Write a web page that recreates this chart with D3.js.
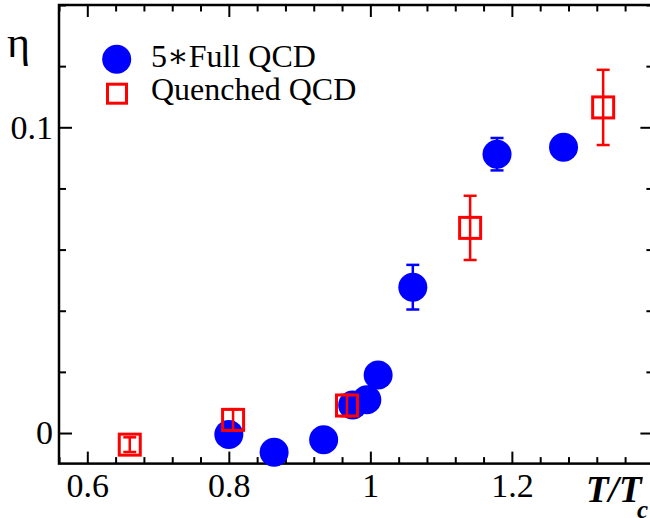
<!DOCTYPE html>
<html>
<head>
<meta charset="utf-8">
<script src="https://cdn.jsdelivr.net/npm/d3@7"></script>
<style>
  body { margin: 0; background: #fff; }
  svg { display: block; }
  .tick text { font-family: "Liberation Serif", serif; font-size: 34px; fill: #000; }
  .tick line { stroke: #000; stroke-width: 2; }
  .domain { display: none; }
  .legendText { font-family: "Liberation Serif", "DejaVu Serif", serif; font-size: 32px; fill: #000; }
</style>
</head>
<body>
<div id="chart"></div>
<script>
// data
var fullT = [0.800, 0.864, 0.934, 0.975, 0.995, 1.011, 1.060, 1.179, 1.273];
var fullEta = [-0.0005, -0.0063, -0.0022, 0.0092, 0.0109, 0.0190, 0.0477, 0.0912, 0.0935];
var fullErr = [0.002, 0.002, 0.002, 0.002, 0.002, 0.002, 0.0073, 0.0053, 0.002];

var quenchedT = [0.660, 0.806, 0.967, 1.141, 1.329];
var quenchedEta = [-0.0038, 0.0043, 0.0090, 0.0671, 0.1065];
var quenchedErr = [0.0024, 0.0035, 0.0035, 0.0105, 0.0123];

var xMajorTicks = [0.6, 0.8, 1, 1.2];
var yMajorTicks = [0, 0.1];
var seriesNames = ["5\u2217Full QCD", "Quenched QCD"];

var svgWidth = 650;
var svgHeight = 518;

// plot frame (right edge sits just outside the picture)
var margin = { top: 5, left: 59 };
var width = 594.4;
var height = 458.6;

var svg = d3.select("#chart")
  .append("svg")
  .attr("width", svgWidth)
  .attr("height", svgHeight);

var chartGroup = svg.append("g")
  .attr("transform", `translate(${margin.left}, ${margin.top})`);

// scales
var xScale = d3.scaleLinear().domain([0.56, 1.4]).range([0, width]);
var yScale = d3.scaleLinear().domain([-0.01, 0.14]).range([height, 0]);

var xMinor = d3.range(0.56, 1.401, 0.04).filter(v => !xMajorTicks.some(m => Math.abs(m - v) < 1e-6));
var yMinor = d3.range(0, 0.141, 0.02).filter(v => !yMajorTicks.some(m => Math.abs(m - v) < 1e-6));

var fmt = d => d3.format("")(+d.toFixed(2));

// axes: ticks point inward on all four sides
chartGroup.append("g")
  .attr("transform", `translate(0, ${height})`)
  .call(d3.axisBottom(xScale).tickValues(xMajorTicks).tickSize(-12).tickPadding(9).tickFormat(fmt));
chartGroup.append("g")
  .attr("transform", `translate(0, ${height})`)
  .call(d3.axisBottom(xScale).tickValues(xMinor).tickSize(-6.5).tickFormat(""));
chartGroup.append("g")
  .call(d3.axisTop(xScale).tickValues(xMajorTicks).tickSize(-12).tickFormat(""));
chartGroup.append("g")
  .call(d3.axisTop(xScale).tickValues(xMinor).tickSize(-6.5).tickFormat(""));

chartGroup.append("g")
  .call(d3.axisLeft(yScale).tickValues(yMajorTicks).tickSize(-13).tickPadding(6).tickFormat(fmt));
chartGroup.append("g")
  .call(d3.axisLeft(yScale).tickValues(yMinor).tickSize(-7).tickFormat(""));
chartGroup.append("g")
  .attr("transform", `translate(${width}, 0)`)
  .call(d3.axisRight(yScale).tickValues(yMajorTicks).tickSize(-13).tickFormat(""));
chartGroup.append("g")
  .attr("transform", `translate(${width}, 0)`)
  .call(d3.axisRight(yScale).tickValues(yMinor).tickSize(-7).tickFormat(""));

chartGroup.append("rect")
  .attr("width", width)
  .attr("height", height)
  .attr("fill", "none")
  .attr("stroke", "#000")
  .attr("stroke-width", 2.5);

var full = fullT.map((t, i) => ({ t: t, eta: fullEta[i], err: fullErr[i] }));
var quenched = quenchedT.map((t, i) => ({ t: t, eta: quenchedEta[i], err: quenchedErr[i] }));

function drawErrors(data, color) {
  var g = chartGroup.append("g").attr("stroke", color).attr("stroke-width", 2.5);
  data.forEach(function(d) {
    var x = xScale(d.t);
    var y0 = yScale(d.eta - d.err);
    var y1 = yScale(d.eta + d.err);
    g.append("line").attr("x1", x).attr("x2", x).attr("y1", y0).attr("y2", y1);
    g.append("line").attr("x1", x - 6.5).attr("x2", x + 6.5).attr("y1", y0).attr("y2", y0);
    g.append("line").attr("x1", x - 6.5).attr("x2", x + 6.5).attr("y1", y1).attr("y2", y1);
  });
}

// full QCD: error bars then circles
drawErrors(full, "#0000ff");

chartGroup.append("g").selectAll("circle")
  .data(full)
  .enter()
  .append("circle")
  .attr("cx", d => xScale(d.t))
  .attr("cy", d => yScale(d.eta))
  .attr("r", 14.5)
  .attr("fill", "#0000ff");

// quenched QCD: open squares with error bars
chartGroup.append("g").selectAll("rect")
  .data(quenched)
  .enter()
  .append("rect")
  .attr("x", d => xScale(d.t) - 10.5)
  .attr("y", d => yScale(d.eta) - 10.5)
  .attr("width", 21)
  .attr("height", 21)
  .attr("fill", "none")
  .attr("stroke", "#ff0000")
  .attr("stroke-width", 3);

drawErrors(quenched, "#ff0000");

// legend
svg.append("circle")
  .attr("cx", 116.7).attr("cy", 59.3).attr("r", 14.5)
  .attr("fill", "#0000ff");
svg.append("rect")
  .attr("x", 107.5).attr("y", 84.2).attr("width", 19).attr("height", 19)
  .attr("fill", "none").attr("stroke", "#ff0000").attr("stroke-width", 3);
svg.append("text").attr("class", "legendText")
  .attr("x", 151).attr("y", 67).text(seriesNames[0]);
svg.append("text").attr("class", "legendText")
  .attr("x", 151).attr("y", 100).text(seriesNames[1]);

// axis titles
svg.append("text")
  .attr("x", 7).attr("y", 57)
  .style("font-family", "'Liberation Serif', serif")
  .style("font-size", "44px")
  .text("\u03b7");

var xTitle = svg.append("text")
  .attr("x", 586).attr("y", 502)
  .style("font-family", "'Liberation Serif', serif")
  .style("font-weight", "bold")
  .style("font-style", "italic")
  .style("font-size", "37px")
  .text("T/T");
xTitle.append("tspan")
  .attr("x", 637).attr("y", 518)
  .style("font-size", "25px")
  .text("c");
</script>
</body>
</html>
